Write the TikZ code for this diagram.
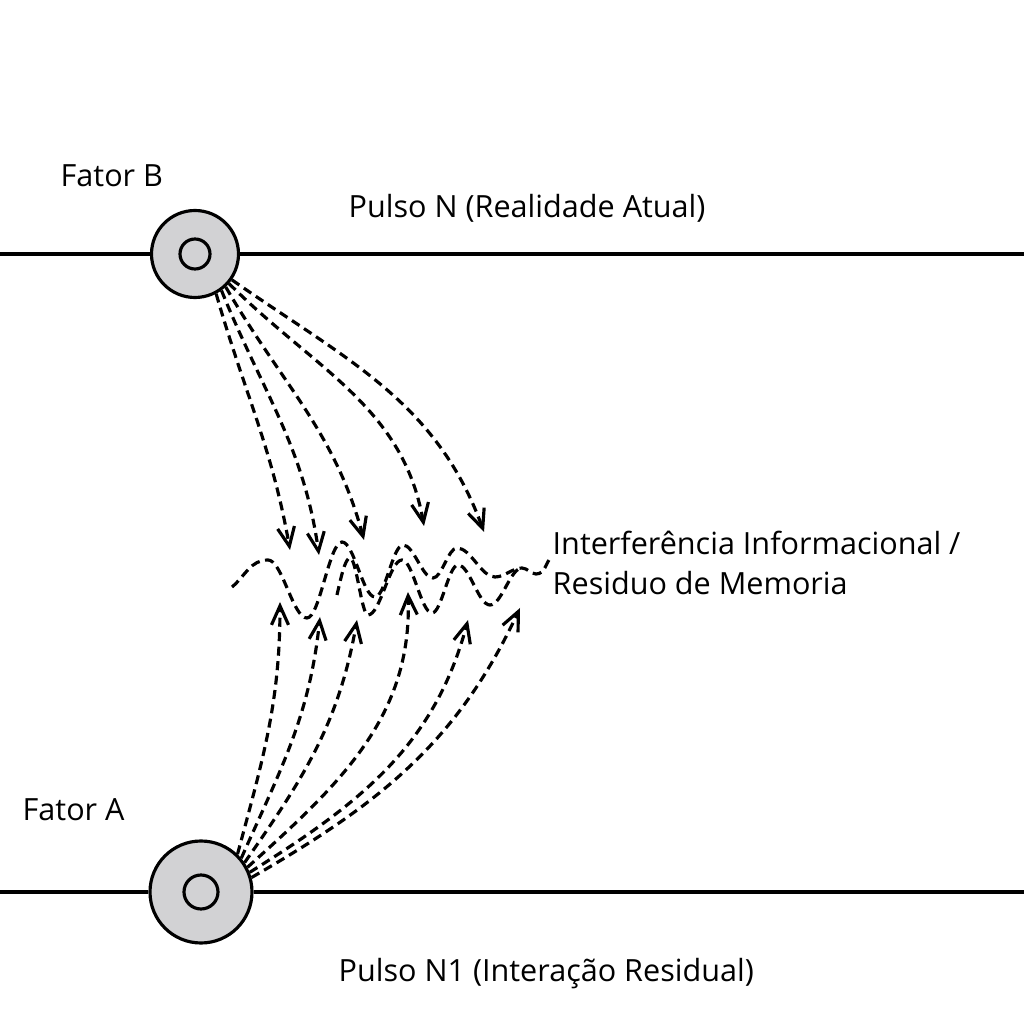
\documentclass[tikz,border=0pt]{standalone}
\usepackage{fontspec}
\setmainfont{Open Sans}
\usetikzlibrary{arrows.meta, positioning}
\definecolor{hubgray}{RGB}{210,210,212}
\tikzset{%
>={Straight Barb[length=1.9mm,width=1.7mm]},
% Specifications for style of nodes:
hub/.style = {circle, draw, line width=0.9pt, fill=hubgray, inner sep=0},
hubB/.style = {hub, minimum size=0.87cm},
hubA/.style = {hub, minimum size=1.02cm},
core/.style = {circle, draw, line width=0.9pt, inner sep=0},
textlabel/.style = {anchor=base west, inner sep=0, font=\fontsize{8.7}{10.5}\selectfont},
pulse/.style = {line width=0.9pt},
ray/.style = {line width=0.9pt, dash pattern=on 0.9mm off 0.55mm},
wave/.style = {ray},
}

\begin{document}
\begin{tikzpicture}
        \useasboundingbox (0,0) rectangle (10.24,10.24);
        % Specification of nodes (position, etc.)
        \node (fatorB) [hubB] at (1.95,7.70) {};
        \node (coreB) [core, minimum size=0.30cm] at (fatorB) {};
        \node (fatorA) [hubA] at (2.01,1.32) {};
        \node (coreA) [core, minimum size=0.34cm] at (fatorA) {};
        \coordinate (pulseNwest) at (0,7.70);
        \coordinate (pulseNeast) at (10.24,7.70);
        \coordinate (pulseRwest) at (0,1.32);
        \coordinate (pulseReast) at (10.24,1.32);

        % Texts
        \node (labelB) [textlabel] at (0.60,8.37) {Fator B};
        \node (labelA) [textlabel] at (0.22,2.04) {Fator A};
        \node (pulseN) [textlabel] at (3.48,8.06) {Pulso N (Realidade Atual)};
        \node (pulseR) [textlabel] at (3.38,0.43) {Pulso N1 (Interação Residual)};
        \node (interf) [textlabel] at (5.52,4.69) {Interferência Informacional /};
        \node (residuo) [textlabel] at (5.52,4.29) {Residuo de Memoria};

        % Arrow ends near the interference zone
        \coordinate (inB1) at (2.90,4.74);
        \coordinate (inB2) at (3.19,4.69);
        \coordinate (inB3) at (3.64,4.84);
        \coordinate (inB4) at (4.24,4.98);
        \coordinate (inB5) at (4.84,4.92);
        \coordinate (inA1) at (2.80,4.22);
        \coordinate (inA2) at (3.20,4.07);
        \coordinate (inA3) at (3.57,4.04);
        \coordinate (inA4) at (4.08,4.32);
        \coordinate (inA5) at (4.68,4.04);
        \coordinate (inA6) at (5.20,4.16);

        % Pulse lines
        \draw [pulse] (pulseNwest) -- (fatorB) -- (pulseNeast);
        \draw [pulse] (pulseRwest) -- (fatorA) -- (pulseReast);

        % Rays from Fator B
        \draw [->, ray] (fatorB.-62) to[out=-74, in=100] (inB1);
        \draw [->, ray] (fatorB.-54) to[out=-68, in=98] (inB2);
        \draw [->, ray] (fatorB.-47) to[out=-60, in=105] (inB3);
        \draw [->, ray] (fatorB.-41) to[out=-45, in=100] (inB4);
        \draw [->, ray] (fatorB.-35) to[out=-35, in=110] (inB5);

        % Rays from Fator A
        \draw [->, ray] (fatorA.46) to[out=75, in=-90] (inA1);
        \draw [->, ray] (fatorA.40) to[out=66, in=-96] (inA2);
        \draw [->, ray] (fatorA.34) to[out=55, in=-100] (inA3);
        \draw [->, ray] (fatorA.28) to[out=42, in=-88] (inA4);
        \draw [->, ray] (fatorA.22) to[out=32, in=-105] (inA5);
        \draw [->, ray] (fatorA.16) to[out=30, in=-115] (inA6);

        % Interference waves
        \draw [wave] (2.32,4.37) to[out=40, in=180] (2.68,4.64) cos (2.875,4.35) sin (3.07,4.06)
            cos (3.245,4.44) sin (3.42,4.82) cos (3.585,4.545) sin (3.75,4.27)
            cos (3.89,4.53) sin (4.03,4.79) cos (4.18,4.625) sin (4.33,4.46)
            cos (4.45,4.61) sin (4.57,4.76) cos (4.76,4.615) sin (4.95,4.47)
            cos (5.085,4.515) sin (5.22,4.56) cos (5.29,4.53) sin (5.36,4.50)
            to[out=0, in=225] (5.52,4.68);
        \draw [wave] (3.37,4.29) sin (3.50,4.66) cos (3.59,4.375) sin (3.68,4.09)
            cos (3.85,4.365) sin (4.02,4.64) cos (4.17,4.375) sin (4.32,4.11)
            cos (4.45,4.35) sin (4.58,4.59) cos (4.74,4.39) sin (4.90,4.19)
            cos (5.06,4.375) sin (5.22,4.56);
    \end{tikzpicture}
\end{document}
